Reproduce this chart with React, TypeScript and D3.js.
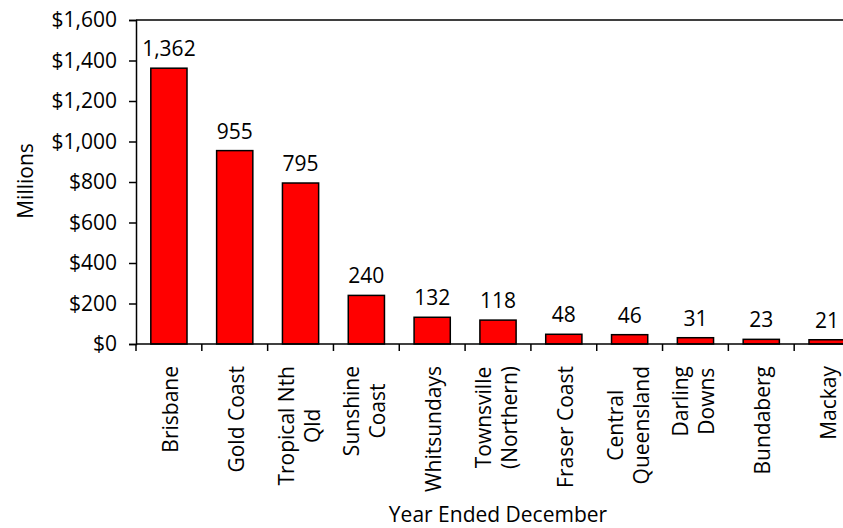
import * as d3 from "d3";
import React, {useEffect, useRef} from "react";

const categories: string[][] = [
  ["Brisbane"],
  ["Gold Coast"],
  ["Tropical Nth", "Qld"],
  ["Sunshine", "Coast"],
  ["Whitsundays"],
  ["Townsville", "(Northern)"],
  ["Fraser Coast"],
  ["Central", "Queensland"],
  ["Darling", "Downs"],
  ["Bundaberg"],
  ["Mackay"],
];
const values: number[] = [1362, 955, 795, 240, 132, 118, 48, 46, 31, 23, 21];
const yTicks: number[] = [0, 200, 400, 600, 800, 1000, 1200, 1400, 1600];

const FONT = "'Open Sans', 'DejaVu Sans', sans-serif";
const FS = "21px";

const App: React.FC = () => {
  const ref = useRef<SVGSVGElement | null>(null);

  useEffect(() => {
    const svg = d3.select(ref.current);
    svg.selectAll("*").remove();

    const width = 843;
    const height = 528;
    const margin = {top: 20, left: 136, bottom: 344, right: 860};

    const xScale = d3
      .scaleBand<number>()
      .domain(values.map((_, i) => i))
      .range([margin.left, margin.right])
      .padding(0);

    const yScale = d3.scaleLinear().domain([0, 1600]).range([margin.bottom, margin.top]);

    const barW = xScale.bandwidth() * 0.55;

    // frame top + right
    svg
      .append("path")
      .attr("d", `M${margin.left},${margin.top}H${margin.right}V${margin.bottom}`)
      .attr("fill", "none")
      .attr("stroke", "black")
      .attr("stroke-width", 1.5);

    svg
      .selectAll(".bar")
      .data(values)
      .enter()
      .append("rect")
      .attr("class", "bar")
      .attr("x", (_, i) => (xScale(i) as number) + (xScale.bandwidth() - barW) / 2)
      .attr("y", (d) => yScale(d))
      .attr("width", barW)
      .attr("height", (d) => yScale(0) - yScale(d))
      .attr("fill", "#ff0000")
      .attr("stroke", "black")
      .attr("stroke-width", 1.5);

    svg
      .selectAll(".value")
      .data(values)
      .enter()
      .append("text")
      .attr("class", "value")
      .attr("x", (_, i) => (xScale(i) as number) + xScale.bandwidth() / 2)
      .attr("y", (d) => yScale(d) - 12)
      .attr("text-anchor", "middle")
      .style("font-family", FONT)
      .style("font-size", FS)
      .attr("fill", "black")
      .text((d) => d3.format(",")(d));

    // y axis
    const yAxis = d3
      .axisLeft(yScale)
      .tickValues(yTicks)
      .tickSize(7)
      .tickPadding(12)
      .tickFormat((d) => d3.format("$,.0f")(d as number));

    const yG = svg.append("g").attr("transform", `translate(${margin.left}, 0)`).call(yAxis);
    yG.select(".domain").attr("stroke", "black").attr("stroke-width", 1.5);
    yG.selectAll(".tick line").attr("stroke", "black").attr("stroke-width", 1.5);
    yG.selectAll(".tick text")
      .style("font-family", FONT)
      .style("font-size", FS)
      .attr("fill", "black");

    // x axis baseline and ticks between categories
    svg
      .append("line")
      .attr("x1", margin.left)
      .attr("x2", margin.right)
      .attr("y1", margin.bottom)
      .attr("y2", margin.bottom)
      .attr("stroke", "black")
      .attr("stroke-width", 1.5);

    svg
      .selectAll(".xtick")
      .data(d3.range(values.length + 1))
      .enter()
      .append("line")
      .attr("class", "xtick")
      .attr("x1", (i) => margin.left + i * xScale.step())
      .attr("x2", (i) => margin.left + i * xScale.step())
      .attr("y1", margin.bottom)
      .attr("y2", margin.bottom + 7)
      .attr("stroke", "black")
      .attr("stroke-width", 1.5);

    // category labels, rotated, lines centred within block
    const lineH = 26;
    const labelTop = 366;
    categories.forEach((lines, i) => {
      const cx = (xScale(i) as number) + xScale.bandwidth() / 2;
      const g = svg.append("g");
      const texts = lines.map((ln) =>
        g
          .append("text")
          .style("font-family", FONT)
          .style("font-size", FS)
          .attr("fill", "black")
          .attr("text-anchor", "middle")
          .text(ln)
      );
      const maxW = d3.max(texts, (t) => (t.node() as SVGTextElement).getComputedTextLength()) || 0;
      const cy = labelTop + maxW / 2;
      const n = lines.length;
      const off = n === 1 ? 9 : 6;
      texts.forEach((t, k) => {
        const bx = cx + (k - (n - 1) / 2) * lineH + off;
        t.attr("transform", `translate(${bx}, ${cy}) rotate(-90)`);
      });
    });

    svg
      .append("text")
      .attr("transform", `translate(33, 181) rotate(-90)`)
      .attr("text-anchor", "middle")
      .style("font-family", FONT)
      .style("font-size", FS)
      .attr("fill", "black")
      .text("Millions");

    svg
      .append("text")
      .attr("x", (margin.left + margin.right) / 2)
      .attr("y", 522)
      .attr("text-anchor", "middle")
      .style("font-family", FONT)
      .style("font-size", FS)
      .attr("fill", "black")
      .text("Year Ended December");

    svg.attr("width", width).attr("height", height);

    return () => {
      svg.selectAll("*").remove();
    };
  }, []);

  return (
    <svg
      ref={ref}
      width={843}
      height={528}
      style={{position: "absolute", left: 0, top: 0, background: "white"}}
    />
  );
};

export default App;
